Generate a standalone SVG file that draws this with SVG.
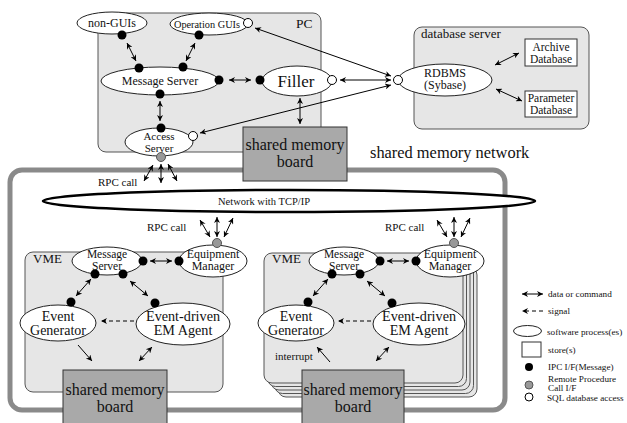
<svg xmlns="http://www.w3.org/2000/svg" width="627" height="423" viewBox="0 0 627 423">
<style>
text{font-family:"Liberation Serif","Times New Roman",serif;fill:#111}
.box{fill:#e6e6e6;stroke:#555;stroke-width:1}
.node{fill:#fff;stroke:#222;stroke-width:1}
.board{fill:#a9a9a9;stroke:#333;stroke-width:1}
.store{fill:#fff;stroke:#333;stroke-width:1}
.d{fill:#000}
.w{fill:#fff;stroke:#000;stroke-width:1}
.g{fill:#999;stroke:#555;stroke-width:1}
.c{stroke:#000;stroke-width:1;fill:none}
.bi{marker-start:url(#ah);marker-end:url(#ah)}
.one{marker-end:url(#ah)}
.dash{stroke-dasharray:4 3}
.m{text-anchor:middle}
.lg{font-size:9.2px}
</style>
<defs>
<marker id="ah" viewBox="0 0 10 10" refX="10" refY="5" markerWidth="8" markerHeight="6" markerUnits="userSpaceOnUse" orient="auto-start-reverse">
<path d="M0,0 L10,5 L0,10 L3,5 z" fill="#000"/>
</marker>
</defs>

<!-- shared memory network frame -->
<g id="smnet">
<rect x="10" y="170" width="495" height="240" rx="12" fill="none" stroke="#8a8a8a" stroke-width="5"/>
<text x="370" y="158" font-size="16.4">shared memory network</text>
</g>

<!-- PC -->
<g id="pc">
<rect class="box" x="98" y="13" width="223" height="139" rx="8"/>
<text x="296" y="28" font-size="13.5">PC</text>
</g>

<!-- database server -->
<g id="dbserver">
<rect class="box" x="414" y="27" width="175" height="102" rx="8"/>
<text x="421" y="38" font-size="13">database server</text>
</g>

<!-- network -->
<g id="network">
<ellipse cx="289" cy="201" rx="246" ry="11" fill="#fff" stroke="#000" stroke-width="2.5"/>
<text x="218" y="205" font-size="10.5">Network with TCP/IP</text>
</g>

<!-- VME left -->
<g id="vme1">
<rect class="box" x="25" y="252" width="198" height="140" rx="8"/>
<text x="33" y="263" font-size="13">VME</text>
</g>

<!-- VME right stacked -->
<g id="vme2">
<rect class="box" x="278" y="267" width="199" height="130" rx="8"/>
<rect class="box" x="274.5" y="263.5" width="199" height="130" rx="8"/>
<rect class="box" x="271" y="260" width="199" height="130" rx="8"/>
<rect class="box" x="267.5" y="256.5" width="199" height="130" rx="8"/>
<rect class="box" x="264" y="253" width="199" height="130" rx="8"/>
<text x="272" y="263" font-size="13">VME</text>
</g>

<!-- connectors -->
<g id="connectors">
<line class="c bi" x1="127" y1="43" x2="136" y2="61"/>
<line class="c bi" x1="195" y1="43" x2="186" y2="61"/>
<line class="c bi" x1="229" y1="80" x2="251" y2="80"/>
<line class="c bi" x1="160" y1="101" x2="160" y2="121"/>
<line class="c bi" x1="300" y1="98" x2="300" y2="124"/>
<line class="c bi" x1="255" y1="28" x2="391" y2="76"/>
<line class="c bi" x1="340" y1="80" x2="391" y2="80"/>
<line class="c bi" x1="200" y1="133" x2="391" y2="85"/>
<line class="c bi" x1="495" y1="65" x2="519" y2="53"/>
<line class="c bi" x1="496" y1="89" x2="522" y2="101"/>
<line class="c bi" x1="153" y1="165" x2="144" y2="181"/>
<line class="c bi" x1="161" y1="164" x2="161" y2="183"/>
<line class="c bi" x1="168" y1="164" x2="177" y2="181"/>
<!-- left VME -->
<line class="c bi" x1="200" y1="220" x2="210" y2="237"/>
<line class="c bi" x1="217" y1="217" x2="217" y2="237"/>
<line class="c bi" x1="233" y1="218" x2="224" y2="237"/>
<line class="c bi" x1="91" y1="279" x2="76" y2="296"/>
<line class="c bi" x1="130" y1="281" x2="148" y2="296"/>
<line class="c bi" x1="150" y1="261" x2="172" y2="261"/>
<line class="c one dash" x1="134" y1="321" x2="101" y2="321"/>
<line class="c one" x1="78" y1="345" x2="92" y2="361"/>
<line class="c bi" x1="152" y1="347" x2="139" y2="361"/>
<!-- right VME -->
<line class="c bi" x1="437" y1="220" x2="447" y2="237"/>
<line class="c bi" x1="454" y1="217" x2="454" y2="237"/>
<line class="c bi" x1="470" y1="218" x2="461" y2="237"/>
<line class="c bi" x1="328" y1="279" x2="313" y2="296"/>
<line class="c bi" x1="367" y1="281" x2="385" y2="296"/>
<line class="c bi" x1="387" y1="261" x2="409" y2="261"/>
<line class="c one dash" x1="371" y1="321" x2="338" y2="321"/>
<line class="c one" x1="330" y1="362" x2="317" y2="347"/>
<line class="c bi" x1="389" y1="347" x2="376" y2="361"/>
</g>

<!-- PC nodes -->
<g id="nonguis">
<ellipse class="node" cx="112" cy="23" rx="35" ry="11"/>
<text class="m" x="112" y="27" font-size="12">non-GUIs</text>
<circle class="d" cx="122" cy="35" r="4.5"/>
</g>
<g id="opguis">
<ellipse class="node" cx="209" cy="24" rx="39" ry="11"/>
<text class="m" x="207" y="28" font-size="10.3">Operation GUIs</text>
<circle class="d" cx="199" cy="35" r="4.5"/>
<circle class="w" cx="248" cy="23" r="4.5"/>
</g>
<g id="msgserver">
<ellipse class="node" cx="160" cy="81" rx="59" ry="14"/>
<text class="m" x="160" y="85" font-size="12">Message Server</text>
<circle class="d" cx="139" cy="68" r="4.5"/>
<circle class="d" cx="183" cy="67" r="4.5"/>
<circle class="d" cx="219" cy="80" r="4.5"/>
<circle class="d" cx="160" cy="94" r="4.5"/>
</g>
<g id="filler">
<ellipse class="node" cx="297" cy="81" rx="35" ry="15"/>
<text class="m" x="296" y="87" font-size="17">Filler</text>
<circle class="d" cx="260" cy="80" r="4.5"/>
<circle class="w" cx="332" cy="80" r="4.5"/>
</g>
<g id="accessserver">
<ellipse class="node" cx="159" cy="142" rx="34" ry="14"/>
<text class="m" x="159" y="139.5" font-size="11">Access</text>
<text class="m" x="159" y="151.5" font-size="11">Server</text>
<circle class="d" cx="161" cy="128" r="4.5"/>
<circle class="w" cx="193" cy="136" r="4.5"/>
<circle class="g" cx="161" cy="157" r="4.5"/>
</g>
<g id="pcboard">
<rect class="board" x="243" y="127" width="104" height="54"/>
<text class="m" x="295" y="150" font-size="16">shared memory</text>
<text class="m" x="295" y="166.5" font-size="16">board</text>
</g>
<g id="rpc-pc">
<text x="98" y="186" font-size="11">RPC call</text>
</g>

<!-- DB server nodes -->
<g id="rdbms">
<ellipse class="node" cx="445" cy="80" rx="47" ry="16"/>
<text class="m" x="445" y="76.5" font-size="12">RDBMS</text>
<text class="m" x="445" y="89" font-size="12">(Sybase)</text>
<circle class="w" cx="398" cy="80" r="4.5"/>
</g>
<g id="archive">
<rect class="store" x="525" y="39" width="52" height="27"/>
<text class="m" x="551" y="50.5" font-size="11.5">Archive</text>
<text class="m" x="551" y="62.5" font-size="11.5">Database</text>
</g>
<g id="parameter">
<rect class="store" x="525" y="91" width="52" height="26"/>
<text class="m" x="551" y="101.5" font-size="11.5">Parameter</text>
<text class="m" x="551" y="113.5" font-size="11.5">Database</text>
</g>

<!-- left VME nodes -->
<g id="vme1-ms">
<ellipse class="node" cx="107" cy="261" rx="35" ry="14"/>
<text class="m" x="107" y="257.5" font-size="11.5">Message</text>
<text class="m" x="107" y="269.5" font-size="11.5">Server</text>
<circle class="d" cx="143" cy="261" r="4.5"/>
<circle class="d" cx="95" cy="274" r="4.5"/>
<circle class="d" cx="123" cy="274" r="4.5"/>
</g>
<g id="vme1-em">
<ellipse class="node" cx="213" cy="261" rx="34" ry="16"/>
<text class="m" x="213" y="257.5" font-size="12">Equipment</text>
<text class="m" x="213" y="270" font-size="12">Manager</text>
<circle class="d" cx="179" cy="261" r="4.5"/>
<circle class="g" cx="217" cy="243" r="4.5"/>
</g>
<g id="vme1-eg">
<ellipse class="node" cx="58" cy="323" rx="38" ry="18"/>
<text class="m" x="58" y="320.5" font-size="14">Event</text>
<text class="m" x="58" y="335" font-size="14">Generator</text>
<circle class="d" cx="71" cy="302" r="4.5"/>
</g>
<g id="vme1-ea">
<ellipse class="node" cx="183" cy="324" rx="47" ry="21"/>
<text class="m" x="183" y="320.5" font-size="14.2">Event-driven</text>
<text class="m" x="183" y="335" font-size="14.2">EM Agent</text>
<circle class="d" cx="155" cy="303" r="4.5"/>
</g>
<g id="vme1-board">
<rect class="board" x="63" y="370" width="104" height="60"/>
<text class="m" x="115" y="395" font-size="16">shared memory</text>
<text class="m" x="115" y="411.5" font-size="16">board</text>
</g>
<g id="rpc-vme1">
<text x="147" y="231" font-size="11">RPC call</text>
</g>

<!-- right VME nodes -->
<g id="vme2-ms">
<ellipse class="node" cx="344" cy="261" rx="35" ry="14"/>
<text class="m" x="344" y="257.5" font-size="11.5">Message</text>
<text class="m" x="344" y="269.5" font-size="11.5">Server</text>
<circle class="d" cx="380" cy="261" r="4.5"/>
<circle class="d" cx="332" cy="274" r="4.5"/>
<circle class="d" cx="360" cy="274" r="4.5"/>
</g>
<g id="vme2-em">
<ellipse class="node" cx="450" cy="261" rx="34" ry="16"/>
<text class="m" x="450" y="257.5" font-size="12">Equipment</text>
<text class="m" x="450" y="270" font-size="12">Manager</text>
<circle class="d" cx="416" cy="261" r="4.5"/>
<circle class="g" cx="454" cy="243" r="4.5"/>
</g>
<g id="vme2-eg">
<ellipse class="node" cx="296" cy="323" rx="38" ry="18"/>
<text class="m" x="296" y="320.5" font-size="14">Event</text>
<text class="m" x="296" y="335" font-size="14">Generator</text>
<circle class="d" cx="308" cy="302" r="4.5"/>
</g>
<g id="vme2-ea">
<ellipse class="node" cx="419" cy="324" rx="46" ry="21"/>
<text class="m" x="419" y="320.5" font-size="14.2">Event-driven</text>
<text class="m" x="419" y="335" font-size="14.2">EM Agent</text>
<circle class="d" cx="392" cy="303" r="4.5"/>
</g>
<g id="vme2-board">
<rect class="board" x="302" y="370" width="102" height="60"/>
<text class="m" x="353" y="395" font-size="16">shared memory</text>
<text class="m" x="353" y="411.5" font-size="16">board</text>
</g>
<g id="rpc-vme2">
<text x="385" y="231" font-size="11">RPC call</text>
</g>
<g id="interrupt">
<text x="275" y="360" font-size="11">interrupt</text>
</g>

<!-- legend -->
<g id="legend">
<line class="c bi" x1="522" y1="294" x2="543" y2="294"/>
<text class="lg" x="548" y="297">data or command</text>
<line class="c one dash" x1="543" y1="311" x2="522" y2="311"/>
<text class="lg" x="548" y="314">signal</text>
<ellipse class="node" cx="527.5" cy="331" rx="14" ry="5.5"/>
<text class="lg" x="547" y="334.5">software process(es)</text>
<rect class="store" x="522" y="342" width="19" height="15"/>
<text class="lg" x="548" y="352.5">store(s)</text>
<circle class="d" cx="529" cy="367" r="4"/>
<text class="lg" x="548" y="370">IPC I/F(Message)</text>
<circle class="g" cx="529" cy="385" r="4"/>
<text class="lg" x="548" y="381.5">Remote Procedure</text>
<text class="lg" x="548" y="391">Call I/F</text>
<circle class="w" cx="529" cy="397" r="4"/>
<text class="lg" x="547" y="400.5">SQL database access</text>
</g>
</svg>
